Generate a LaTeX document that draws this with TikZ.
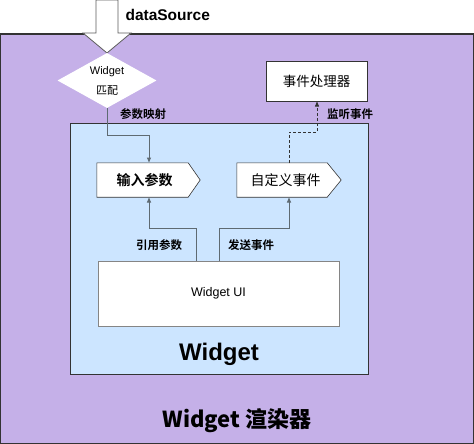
\documentclass[tikz,border=0pt]{standalone}
\usepackage{fontspec}
\setmainfont{Liberation Sans}
\newfontfamily\cjk{Noto Sans CJK SC}
\newfontfamily\cjkb{Noto Sans CJK SC Bold}
\usetikzlibrary{shapes.geometric,arrows.meta}
\definecolor{purp}{HTML}{C5B0E8}
\definecolor{lblue}{HTML}{CCE5FF}
\definecolor{edge}{HTML}{333333}
\definecolor{conn}{HTML}{5E6A72}
\tikzset{
  box/.style={draw=edge!80, fill=white, line width=0.8pt, inner sep=0pt},
  sigbody/.style={draw=none, minimum height=34pt, inner sep=0pt},
  sigline/.style={draw=edge, fill=white, line width=0.6pt},
  link/.style={draw=conn, line width=1pt, -{Triangle[length=5pt,width=4pt]}},
  dlink/.style={draw=edge, line width=0.7pt, dashed, dash pattern=on 3pt off 2pt, -{Triangle[length=5pt,width=4pt]}},
  lab/.style={font=\fontsize{11.5}{12}\cjkb, text=black, inner sep=0pt, anchor=west},
}
\begin{document}
\begin{tikzpicture}[x=1pt,y=-1pt]
\useasboundingbox (0,0) rectangle (474,444);
% outer renderer
\draw[fill=purp, draw=edge, line width=1.2pt] (0,34) rectangle (473.4,443.4);
\node[font=\fontsize{22}{24}\bfseries\cjkb] (rend) at (237,421) {Widget 渲染器};
% inner widget
\draw[fill=lblue, draw=edge, line width=1pt] (70,123) rectangle (368,374);
\node[font=\fontsize{24}{26}\bfseries] (wlab) at (219,354) {Widget};
% big arrow
\draw[fill=white, draw=edge!80, line width=0.8pt] (96,0) -- (118,0) -- (118,33) -- (131,33) -- (107,53) -- (83,33) -- (96,33) -- cycle;
\node[font=\fontsize{15.5}{16}\bfseries, anchor=west] (ds) at (122,15) {dataSource};
% diamond
\node[diamond, draw=none, fill=white, minimum width=99pt, minimum height=55pt, inner sep=0pt, aspect=1.8] (match) at (107,80.5) {};
\node[font=\fontsize{11}{12}\selectfont] at (107,72) {Widget};
\node[font=\fontsize{11}{12}\cjk] at (107,91) {匹配};
% handler
\node[box, draw=edge, minimum width=101pt, minimum height=40pt] (handler) at (316.5,81) {\fontsize{13.5}{14}\cjk 事件处理器};
% signals
\node[sigbody, minimum width=91pt] (input) at (142.5,180) {};
\draw[sigline] (input.north west) -- (input.north east) -- ([xshift=12pt]input.east) -- (input.south east) -- (input.south west) -- cycle;
\node[font=\fontsize{14}{14}\cjkb] at (144.5,180) {输入参数};
\node[sigbody, minimum width=90pt] (event) at (282,180) {};
\draw[sigline] (event.north west) -- (event.north east) -- ([xshift=14pt]event.east) -- (event.south east) -- (event.south west) -- cycle;
\node[font=\fontsize{14}{14}\cjk] at (285.5,180) {自定义事件};
% widget UI
\node[box, draw=edge!60, line width=1pt, minimum width=241pt, minimum height=65pt] (ui) at (218.5,293.5) {\fontsize{12.5}{13}\selectfont Widget UI};
% connectors
\draw[link] (match.south) -- (107,135) -- (149,135) -- (149,162.5);
\node[lab] at (120,114) {参数映射};
\draw[link] ([xshift=-22.5pt]ui.north) -- ++(0,-32) -| (149,197.5);
\node[lab] at (136,245) {引用参数};
\draw[link] ([xshift=0.5pt]ui.north) -- ++(0,-32) -| (289,197.5);
\node[lab] at (228,245) {发送事件};
\draw[dlink] (289,163) -- (289,132) -- (317,132) -- (317,101.5);
\node[lab] at (327,114) {监听事件};
\end{tikzpicture}
\end{document}
